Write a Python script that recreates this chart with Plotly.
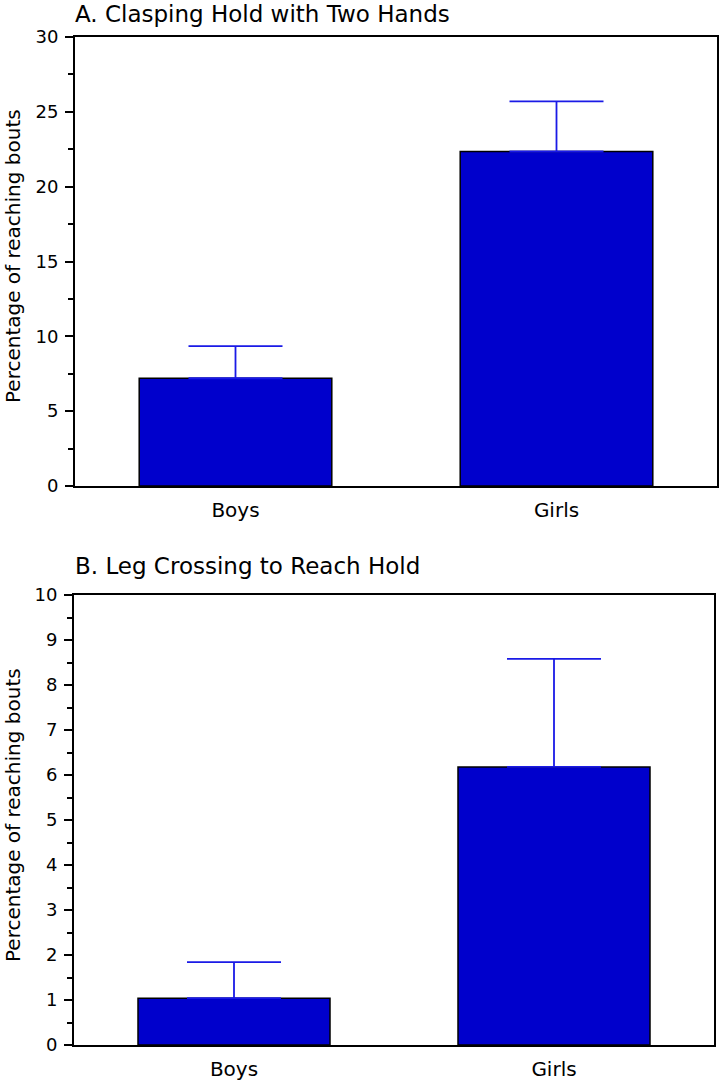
import plotly.graph_objects as go

categories = ["Boys", "Girls"]
clasp_values = [7.2, 22.35]
clasp_errors = [2.15, 3.35]
leg_values = [1.04, 6.18]
leg_errors = [0.80, 2.40]

title_a = "A. Clasping Hold with Two Hands"
title_b = "B. Leg Crossing to Reach Hold"
y_title = "Percentage of reaching bouts"

W, H = 720, 1085
FONT = "DejaVu Sans"
BAR_COLOR = "#0000CC"
ERR_COLOR = "#1A1AE6"
TICK_FONT = dict(family=FONT, size=18, color="black")
CAT_FONT = dict(family=FONT, size=20, color="black")


def px_x(p):
    return p / W


def px_y(p):
    return 1 - p / H


fig = go.Figure()

for vals, errs, xa, ya in [
    (clasp_values, clasp_errors, "x", "y"),
    (leg_values, leg_errors, "x2", "y2"),
]:
    fig.add_trace(go.Bar(
        x=categories, y=vals, xaxis=xa, yaxis=ya,
        width=0.6,
        marker=dict(color=BAR_COLOR, line=dict(color="black", width=1.5)),
        error_y=dict(type="data", array=errs, arrayminus=[0, 0], symmetric=False,
                     color=ERR_COLOR, thickness=1.8, width=47),
        showlegend=False,
    ))

common_x = dict(
    showline=True, linecolor="black", linewidth=2, mirror=True,
    ticks="", tickfont=CAT_FONT, ticklabelstandoff=5,
    showgrid=False, zeroline=False, fixedrange=True, automargin=False,
)
common_y = dict(
    showline=True, linecolor="black", linewidth=2, mirror=True,
    ticks="outside", ticklen=8, tickwidth=1.5, tickcolor="black",
    tickfont=TICK_FONT, ticklabelstandoff=3,
    showgrid=False, zeroline=False, automargin=False,
)

fig.update_layout(
    width=W, height=H,
    margin=dict(l=0, r=0, t=0, b=0, pad=0, autoexpand=False),
    paper_bgcolor="white", plot_bgcolor="white",
    bargap=0.4,
    xaxis=dict(domain=[px_x(75), px_x(717)], anchor="y", **common_x),
    yaxis=dict(domain=[px_y(486), px_y(37)], anchor="x", range=[0, 30],
               tickvals=[0, 5, 10, 15, 20, 25, 30],
               minor=dict(dtick=2.5, tick0=0, ticks="outside", ticklen=5,
                          tickwidth=1.5, tickcolor="black", showgrid=False),
               **common_y),
    xaxis2=dict(domain=[px_x(74), px_x(714)], anchor="y2", **common_x),
    yaxis2=dict(domain=[px_y(1045), px_y(595)], anchor="x2", range=[0, 10],
                tickvals=list(range(0, 11)),
                minor=dict(dtick=0.5, tick0=0, ticks="outside", ticklen=5,
                           tickwidth=1.5, tickcolor="black", showgrid=False),
                **common_y),
)

annotations = [
    dict(text=title_a, x=px_x(73), y=px_y(14), xanchor="left", yanchor="middle"),
    dict(text=title_b, x=px_x(73), y=px_y(566), xanchor="left", yanchor="middle"),
]
for a in annotations:
    a.update(xref="paper", yref="paper", showarrow=False,
             font=dict(family=FONT, size=23, color="black"))

for yc in (256, 815):
    annotations.append(dict(
        text=y_title, x=px_x(13), y=px_y(yc), xref="paper", yref="paper",
        xanchor="center", yanchor="middle", textangle=-90, showarrow=False,
        font=dict(family=FONT, size=20, color="black"),
    ))

fig.update_layout(annotations=annotations)

fig.write_html("out.html")
